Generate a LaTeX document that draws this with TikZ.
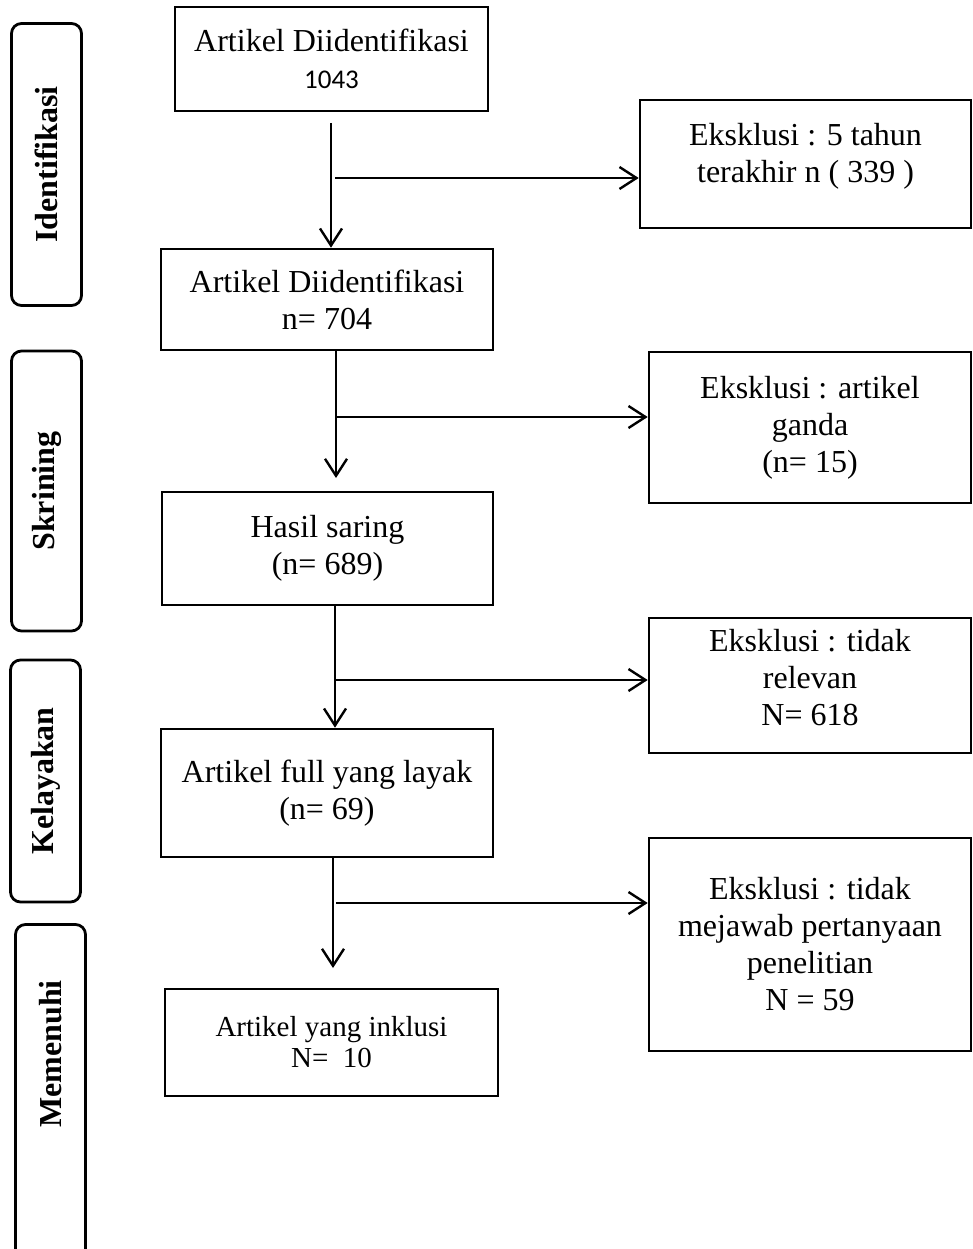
\documentclass[tikz,border=0pt]{standalone}
\usepackage{fontspec}
\setmainfont{Liberation Serif}
\newfontfamily\calibri{Carlito}
\usetikzlibrary{arrows.meta}

\begin{document}
\begin{tikzpicture}[x=1pt,y=-1pt]
      \tikzstyle{kotak} = [draw=black, line width=2.6pt, rectangle, inner sep=0pt, align=center, font=\fontsize{32}{37}\selectfont]
      \tikzstyle{sisi} = [draw=black, line width=2.8pt, rounded corners=10pt, rotate=90, inner sep=0pt, minimum height=70pt, font=\fontsize{32}{38}\selectfont\bfseries]
      \tikzstyle{panah} = [line width=2.4pt, -{Straight Barb[length=17pt,width=22pt]}]
      \path[use as bounding box, clip] (0,0) rectangle (973,1249);

      % tahap
      \node[sisi, minimum width=282pt] (s1) at (46.5,164.5) {Identifikasi};
      \node[sisi, minimum width=280pt] (s2) at (46.5,491) {Skrining};
      \node[sisi, minimum width=242pt] (s3) at (45.5,781) {Kelayakan};
      \node[sisi, minimum width=345pt] (s4) at (50.5,1097) {\hspace*{86pt}Memenuhi};

      % alur utama
      \node[kotak, minimum width=313pt, minimum height=104pt] (b1) at (331.5,59) {Artikel Diidentifikasi\\{\calibri\fontsize{27}{37}\selectfont 1043}};
      \node[kotak, minimum width=332pt, minimum height=101pt] (b2) at (327,299.5) {Artikel Diidentifikasi\\n= 704};
      \node[kotak, minimum width=331pt, minimum height=113pt] (b3) at (327.5,548.5) {Hasil saring\\(n= 689)};
      \node[kotak, minimum width=332pt, minimum height=128pt] (b4) at (327,793) {Artikel full yang layak\\(n= 69)};
      \node[kotak, minimum width=333pt, minimum height=107pt, font=\fontsize{29}{31}\selectfont] (b5) at (331.5,1042.5) {Artikel yang inklusi\\N=~ 10};

      % eksklusi
      \node[kotak, minimum width=331pt, minimum height=128pt] (e1) at (805.5,164) {Eksklusi : 5 tahun\\terakhir n ( 339 )\rule[-23pt]{0pt}{23pt}};
      \node[kotak, minimum width=322pt, minimum height=151pt] (e2) at (810,427.5) {Eksklusi : artikel\\ganda\\(n= 15)};
      \node[kotak, minimum width=322pt, minimum height=135pt] (e3) at (810,685.5) {Eksklusi : tidak\\relevan\\N= 618\rule[-16pt]{0pt}{16pt}};
      \node[kotak, minimum width=322pt, minimum height=213pt] (e4) at (810,944.5) {Eksklusi : tidak\\mejawab pertanyaan\\penelitian\\N = 59};

      \coordinate (a1) at (331,123);
      \coordinate (a2) at (336,478);
      \coordinate (a3) at (335,605);
      \coordinate (a5) at (333,968);
      \coordinate (c1) at (335,178);
      \coordinate (c2) at (336,417);
      \coordinate (c3) at (335,680);
      \coordinate (c4) at (336,903);

      \draw[panah] (a1) -- (a1 |- b2.north);
      \draw[panah] (a2 |- b2.south) -- (a2);
      \draw[panah] (a3) -- (a3 |- b4.north);
      \draw[panah] (a5 |- b4.south) -- (a5);

      \draw[panah] (c1) -- (c1 -| e1.west);
      \draw[panah] (c2) -- (c2 -| e2.west);
      \draw[panah] (c3) -- (c3 -| e3.west);
      \draw[panah] (c4) -- (c4 -| e4.west);
\end{tikzpicture}
\end{document}
